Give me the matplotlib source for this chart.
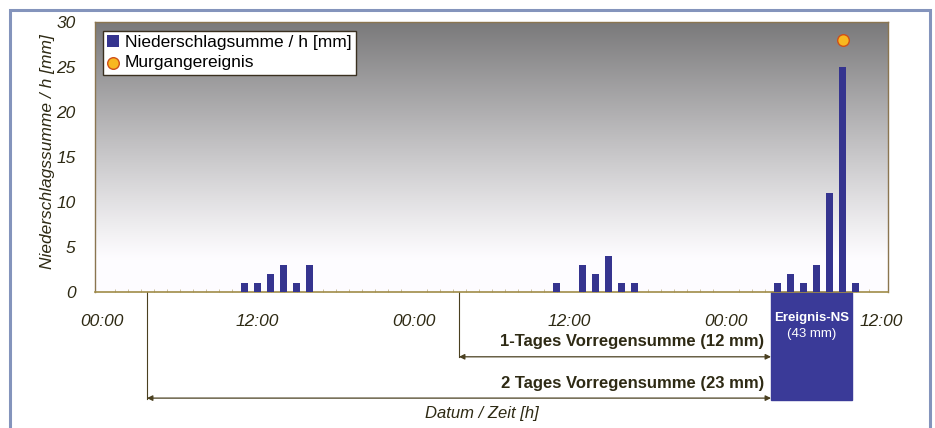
import numpy as np
import matplotlib
matplotlib.use("Agg")
import matplotlib.pyplot as plt
from matplotlib.patches import Rectangle
import matplotlib.transforms as mtransforms

plt.rcParams['font.family'] = ['Liberation Sans', 'DejaVu Sans']

# data (hour index from 00:00 of day 1, mm per hour)
hours = [11, 12, 13, 14, 15, 16, 35, 37, 38, 39, 40, 41, 52, 53, 54, 55, 56, 57, 58]
rain = [1, 1, 2, 3, 1, 3, 1, 3, 2, 4, 1, 1, 1, 2, 1, 3, 11, 25, 1]
event_hour = [57]
event_value = [28]
tick_hours = [0, 12, 24, 36, 48, 60]
tick_labels = ['00:00', '12:00', '00:00', '12:00', '00:00', '12:00']
event_start, event_end = 51.5, 57.7
day1_start, day2_start = 27.5, 3.5

txt = '#2e2a14'
bar_col = '#35348f'

fig = plt.figure(figsize=(9.35, 4.28), dpi=100)
fig.patch.set_facecolor('white')
ax = fig.add_axes([95 / 935, 1 - 292 / 428, 793 / 935, 270 / 428])

# outer frame
fig.patches.append(Rectangle((10 / 935, -0.05), 920 / 935, 1 - 10 / 428 + 0.05,
                             transform=fig.transFigure, fill=False,
                             edgecolor='#8494bc', lw=2.2, zorder=0))

# grey gradient background
t = np.linspace(0, 1, 256)[:, None]
g = 1.0 - 0.52 * np.clip((t - 0.12) / 0.88, 0, 1) ** 1.1
grad = np.dstack([g * 0.995, g * 0.99, g * 1.0])
grad = np.clip(grad, 0, 1)
ax.imshow(grad, extent=[0, 1, 0, 1], transform=ax.transAxes, origin='lower',
          aspect='auto', zorder=0)

b = ax.bar(hours, rain, width=0.6, color=bar_col, zorder=3,
           label='Niederschlagsumme / h [mm]')
sc = ax.scatter(event_hour, event_value, s=70, color='#f8b820', edgecolor='#d05018',
                linewidth=1, zorder=4, label='Murgangereignis')

ax.set_xlim(-0.5, 60.5)
ax.set_ylim(0, 30)
ax.set_yticks([0, 5, 10, 15, 20, 25, 30])
ax.set_xticks(tick_hours)
ax.set_xticklabels(tick_labels)
ax.set_xticks(np.arange(0, 61, 1), minor=True)
ax.tick_params(axis='x', which='major', length=0, pad=16, labelsize=12.5,
               labelcolor=txt)
ax.tick_params(axis='x', which='minor', length=2.5, direction='in',
               color='#b8a878', width=0.5)
ax.tick_params(axis='y', length=0, pad=14, labelsize=12.5, labelcolor=txt)
for lb in ax.get_xticklabels() + ax.get_yticklabels():
    lb.set_fontstyle('italic')

for s in ['top', 'left', 'right']:
    ax.spines[s].set_color('#8a7550')
    ax.spines[s].set_linewidth(1.0)
ax.spines['bottom'].set_color('#a08c48')
ax.spines['bottom'].set_linewidth(1.2)

ax.set_ylabel('Niederschlagssumme / h [mm]', fontsize=12.5, style='italic',
              color=txt)
ax.yaxis.set_label_coords(-0.05, 0.52)

leg = ax.legend([b, sc], ['Niederschlagsumme / h [mm]', 'Murgangereignis'],
                loc='upper left', bbox_to_anchor=(0.01, 0.968), frameon=True,
                fancybox=False, fontsize=12.5, handlelength=0.7, handletextpad=0.3,
                borderpad=0.25, labelspacing=0.3, borderaxespad=0)
leg.get_frame().set_edgecolor('#3a3020')
leg.get_frame().set_linewidth(1.0)
leg.get_frame().set_facecolor('white')
leg.get_frame().set_alpha(1)

# annotations below the axis
trans = mtransforms.blended_transform_factory(ax.transData, ax.transAxes)
ax.add_patch(Rectangle((event_start, -0.40), event_end - event_start, 0.40,
                       transform=trans, color='#3a3a98', clip_on=False, zorder=2))
mid = (event_start + event_end) / 2
ax.text(mid, -0.096, 'Ereignis-NS', transform=trans, ha='center', va='center',
        color='white', fontsize=9.5, fontweight='bold')
ax.text(mid, -0.155, '(43 mm)', transform=trans, ha='center', va='center',
        color='white', fontsize=9.5)

line_col = '#4a4020'
ax.plot([day1_start, day1_start], [0, -0.24], transform=trans, color=line_col,
        lw=0.8, clip_on=False)
ax.plot([day2_start, day2_start], [0, -0.395], transform=trans, color=line_col,
        lw=0.8, clip_on=False)
for x0, y0 in [(day1_start, -0.24), (day2_start, -0.393)]:
    ax.annotate('', xy=(event_start, y0), xytext=(x0, y0), xycoords=trans,
                textcoords=trans,
                arrowprops=dict(arrowstyle='<|-|>', color=line_col, lw=0.9,
                                mutation_scale=8, shrinkA=0, shrinkB=0),
                annotation_clip=False)

ax.text(event_start - 0.5, -0.185, '1-Tages Vorregensumme (12 mm)', transform=trans,
        ha='right', va='center', fontsize=12, fontweight='bold', color=txt)
ax.text(event_start - 0.5, -0.34, '2 Tages Vorregensumme (23 mm)', transform=trans,
        ha='right', va='center', fontsize=12, fontweight='bold', color=txt)
ax.text(0.488, -0.45, 'Datum / Zeit [h]', transform=ax.transAxes, ha='center',
        va='center', fontsize=12, style='italic', color=txt)

fig.savefig('out.png', dpi=100)
